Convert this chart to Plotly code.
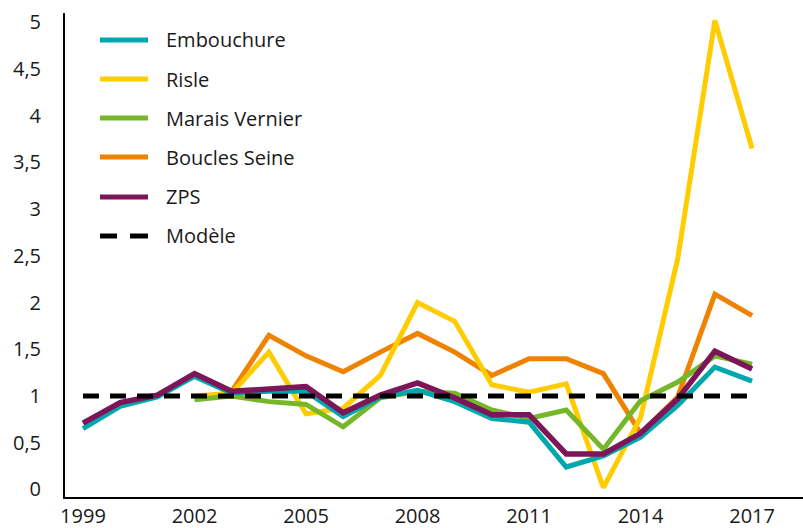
import plotly.graph_objects as go

years = list(range(1999, 2018))

embouchure = [0.65, 0.89, 0.99, 1.21, 1.03, 1.05, 1.05, 0.78, 0.99, 1.06, 0.94, 0.76, 0.72, 0.24, 0.36, 0.56, 0.90, 1.31, 1.16]
risle = [None, None, None, 1.00, 1.03, 1.47, 0.81, 0.87, 1.22, 2.00, 1.80, 1.12, 1.04, 1.13, 0.02, 0.77, 2.47, 5.02, 3.65]
marais_vernier = [None, None, None, 0.96, 1.00, 0.94, 0.91, 0.67, 0.98, 1.05, 1.03, 0.85, 0.76, 0.85, 0.43, 0.95, 1.15, 1.43, 1.34]
boucles_seine = [None, None, None, None, 1.05, 1.65, 1.43, 1.26, 1.47, 1.67, 1.47, 1.22, 1.40, 1.40, 1.24, 0.60, 0.99, 2.09, 1.86]
zps = [0.71, 0.93, 1.01, 1.24, 1.05, 1.08, 1.10, 0.82, 1.01, 1.14, 0.98, 0.80, 0.80, 0.38, 0.38, 0.60, 0.97, 1.48, 1.29]
modele = [1.0] * len(years)

series_names = ["Embouchure", "Risle", "Marais Vernier", "Boucles Seine", "ZPS", "Modèle"]
series_values = [embouchure, risle, marais_vernier, boucles_seine, zps, modele]
colors = ["#00A8AE", "#FFCC00", "#76B72A", "#EF8200", "#7C1658", "#000000"]
dashes = ["solid", "solid", "solid", "solid", "solid", "16px,11px"]
widths = [5, 5, 5, 5, 5.5, 5]

y_tick_vals = [0, 0.5, 1, 1.5, 2, 2.5, 3, 3.5, 4, 4.5, 5]
y_tick_text = ["0", "0,5", "1", "1,5", "2", "2,5", "3", "3,5", "4", "4,5", "5"]
x_tick_vals = [1999, 2002, 2005, 2008, 2011, 2014, 2017]

W, H = 803, 528
ML, MR, MT, MB = 65, 0, 13, 31
FONT = "Open Sans"
FS = 20

fig = go.Figure()
order = [3, 1, 2, 0, 4, 5]
for i in order:
    fig.add_trace(go.Scatter(
        x=years, y=series_values[i], name=series_names[i], mode="lines",
        line=dict(color=colors[i], width=widths[i], dash=dashes[i]),
        connectgaps=False, showlegend=False,
    ))

# manual legend
pw = W - ML - MR
ph = H - MT - MB
def px_x(p):
    return (p - ML) / pw
def px_y(p):
    return (H - MB - p) / ph

legend_rows = [40, 79, 118, 157, 197, 236]
for i, yrow in enumerate(legend_rows):
    if dashes[i] == "solid":
        fig.add_shape(type="line", xref="paper", yref="paper",
                      x0=px_x(100), x1=px_x(148), y0=px_y(yrow), y1=px_y(yrow),
                      line=dict(color=colors[i], width=5))
    else:
        for a, b in [(100, 117), (130, 148)]:
            fig.add_shape(type="line", xref="paper", yref="paper",
                          x0=px_x(a), x1=px_x(b), y0=px_y(yrow), y1=px_y(yrow),
                          line=dict(color=colors[i], width=5))
    fig.add_annotation(xref="paper", yref="paper", x=px_x(164), y=px_y(yrow),
                       text=series_names[i], showarrow=False, xanchor="left", yanchor="middle",
                       font=dict(family=FONT, size=FS, color="#1a1a1a"))

fig.update_layout(
    width=W, height=H,
    margin=dict(l=ML, r=MR, t=MT, b=MB, autoexpand=False),
    paper_bgcolor="white", plot_bgcolor="white",
    separators=",.",
    font=dict(family=FONT, size=FS, color="#1a1a1a"),
    showlegend=False,
)
fig.update_xaxes(range=[1998.516, 2018.37], tickvals=x_tick_vals, showgrid=False, zeroline=False,
                 showline=True, linecolor="black", linewidth=2, ticks="", tickfont=dict(size=FS),
                 automargin=False)
fig.update_yaxes(range=[-0.081, 5.10], tickvals=y_tick_vals, ticktext=y_tick_text, showgrid=False,
                 zeroline=False, showline=True, linecolor="black", linewidth=2, ticks="",
                 ticklabelstandoff=18, tickfont=dict(size=FS), automargin=False)

fig.write_html("out.html", config={"displayModeBar": False},
               post_script="document.body.style.margin='0';document.body.style.overflow='hidden';")
